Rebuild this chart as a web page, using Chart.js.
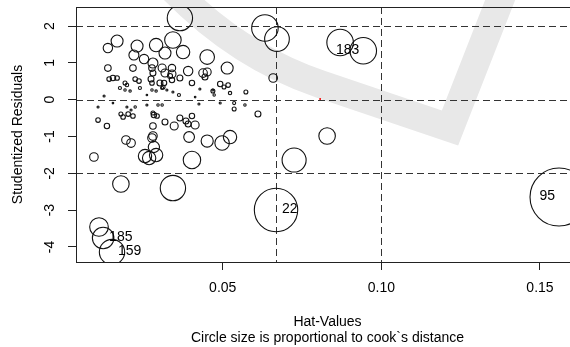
<!DOCTYPE html>
<html>
<head>
<meta charset="utf-8">
<script src="https://cdn.jsdelivr.net/npm/chart.js@4.4.1/dist/chart.umd.min.js"></script>
<style>
  html, body { margin: 0; padding: 0; background: #fff; overflow: hidden; }
  #wrap { width: 580px; height: 347px; }
</style>
</head>
<body>
<div id="wrap"><canvas id="influence" width="580" height="347"></canvas></div>
<script>
// influence plot: hat values against studentized residuals, circle size ~ sqrt(cook's D)
// first five observations are the labelled ones
const hatValues = [
  0.1560, 0.0668, 0.0943, 0.0123, 0.0151,
  0.0870, 0.0365, 0.0633, 0.0671, 0.0725, 0.0829, 0.0343, 0.0179, 0.0110, 0.0094,
  0.0403, 0.0255, 0.0268, 0.0290, 0.0283, 0.0498, 0.0523, 0.0451, 0.0394, 0.0195,
  0.0211, 0.0280, 0.0277, 0.0280, 0.0347, 0.0413, 0.0318, 0.0384, 0.0391, 0.0365,
  0.0403, 0.0280, 0.0283, 0.0293, 0.0179, 0.0186, 0.0202, 0.0217, 0.0107, 0.0135,
  0.0536, 0.0611,
  0.0107, 0.0198, 0.0211, 0.0224, 0.0261, 0.0296, 0.0309, 0.0425, 0.0492, 0.0536,
  0.0570, 0.0154,
  0.0126, 0.0176, 0.0192, 0.0208, 0.0239, 0.0277, 0.0290, 0.0309, 0.0324, 0.0343,
  0.0362, 0.0428, 0.0469, 0.0473, 0.0261, 0.0413, 0.0469, 0.0523, 0.0573,
  0.0167, 0.0138, 0.0230, 0.0290, 0.0343, 0.0318, 0.0375, 0.0220, 0.0252, 0.0280,
  0.0451, 0.0514, 0.0391, 0.0309, 0.0340, 0.0318, 0.0340, 0.0138, 0.0217, 0.0277,
  0.0280, 0.0438, 0.0451, 0.0444, 0.0365, 0.0403, 0.0142, 0.0154, 0.0167, 0.0224,
  0.0236, 0.0274, 0.0277, 0.0302, 0.0315, 0.0340, 0.0492, 0.0517, 0.0504, 0.0659,
  0.0192, 0.0198, 0.0312, 0.0334
];
const studResiduals = [
  -2.645, -2.997, 1.330, -3.758, -4.139,
  1.554, 2.220, 1.948, 1.649, -1.639, -0.987, -2.400, -2.291, -3.459, -1.557,
  -1.639, -1.530, -1.584, -1.503, -1.285, -1.177, -1.014, -1.122, -1.014, -1.095,
  -1.177, -0.987, -1.041, -0.715, -0.715, -0.688, -0.606, -0.579, -0.660, -0.497,
  -0.443, -0.361, -0.416, -0.443, -0.389, -0.470, -0.389, -0.443, -0.552, -0.715,
  -0.253, -0.389,
  -0.198, -0.198, -0.280, -0.198, -0.144, -0.144, -0.144, -0.117, -0.090, -0.090,
  -0.144, -0.090,
  0.101, 0.318, 0.264, 0.236, 0.318, 0.264, 0.236, 0.318, 0.264, 0.209,
  0.128, 0.291, 0.264, 0.128, 0.128, 0.073, 0.236, 0.182, 0.209,
  1.595, 1.405, 1.459, 1.486, 1.622, 1.269, 1.296, 1.215, 1.106, 0.997,
  1.160, 0.861, 0.780, 0.861, 0.861, 0.725, 0.698, 0.861, 0.861, 0.861,
  0.725, 0.725, 0.753, 0.617, 0.590, 0.454, 0.562, 0.590, 0.590, 0.562,
  0.508, 0.562, 0.454, 0.454, 0.454, 0.535, 0.427, 0.399, 0.345, 0.590,
  0.454, 0.400, 0.345, 0.644
];
const cookDistances = [
  0.320, 0.179, 0.067, 0.044, 0.061,
  0.067, 0.061, 0.067, 0.058, 0.055, 0.026, 0.061, 0.026, 0.033, 0.0070,
  0.029, 0.017, 0.017, 0.017, 0.012, 0.020, 0.017, 0.014, 0.011, 0.0070,
  0.0070, 0.0070, 0.0070, 0.0041, 0.0061, 0.0061, 0.0034, 0.0034, 0.0034, 0.0034,
  0.0028, 0.0015, 0.0028, 0.0020, 0.0015, 0.0020, 0.0020, 0.0020, 0.0020, 0.0028,
  0.0015, 0.0034,
  0.0004, 0.0004, 0.0004, 0.00055, 0.0004, 0.00055, 0.00055, 0.0004, 0.0004, 0.0009,
  0.00055, 0.00024,
  0.0004, 0.0009, 0.00055, 0.00055, 0.0009, 0.00055, 0.00055, 0.0009, 0.0004, 0.0004,
  0.0009, 0.0004, 0.0004, 0.00055, 0.00024, 0.00024, 0.0015, 0.0011, 0.0015,
  0.0137, 0.0084, 0.0137, 0.0171, 0.026, 0.0137, 0.0171, 0.0095, 0.0084, 0.0095,
  0.0203, 0.0137, 0.0084, 0.0061, 0.0052, 0.0061, 0.0061, 0.0041, 0.0041, 0.0041,
  0.0034, 0.0070, 0.0061, 0.0034, 0.0034, 0.0028, 0.0020, 0.0028, 0.0020, 0.0020,
  0.0020, 0.0034, 0.0020, 0.0034, 0.0028, 0.0028, 0.0028, 0.0020, 0.0015, 0.0070,
  0.0015, 0.0012, 0.0015, 0.0024
];
const obsLabels = ['95', '22', '183', '185', '159'];
const labelSide = ['left', 'right', 'left', 'right', 'right'];

const hatCutoffs = [0.0667, 0.10];
const residCutoffs = [-2, 0, 2];
const xTicks = [0.05, 0.10, 0.15];
const yTicks = [-4, -3, -2, -1, 0, 1, 2];

// a single stray red mark on the zero line
const strayX = [0.0807];
const strayY = [0.02];

const maxRadius = 29;
const maxCook = Math.max(...cookDistances);
const radiusFor = c => maxRadius * Math.sqrt(c / maxCook);

const font = { family: "'Liberation Sans', Arial, Helvetica, sans-serif", size: 14 };

// fixed axis boxes, no label overhang padding, so the plot region sits where R put it
const fixBox = (w, h) => s => {
  if (w) s.width = w;
  if (h) s.height = h;
  s.paddingLeft = s.paddingRight = s.paddingTop = s.paddingBottom = 0;
};

const watermark = {
  id: 'watermark',
  beforeDraw(chart) {
    const ctx = chart.ctx;
    ctx.save();
    ctx.strokeStyle = '#e8e8e8';
    ctx.lineWidth = 28;
    ctx.lineJoin = 'miter';
    ctx.beginPath();
    ctx.moveTo(168, -16);
    ctx.quadraticCurveTo(235, 55, 320, 84);
    ctx.lineTo(450, 128);
    ctx.lineTo(508, -20);
    ctx.stroke();
    ctx.restore();
  }
};

const refLines = {
  id: 'refLines',
  beforeDatasetsDraw(chart) {
    const { ctx, chartArea: a, scales: { x, y } } = chart;
    ctx.save();
    ctx.strokeStyle = '#333';
    ctx.lineWidth = 1;
    ctx.setLineDash([7, 4]);
    hatCutoffs.forEach(h => {
      const px = Math.round(x.getPixelForValue(h)) + 0.5;
      ctx.beginPath(); ctx.moveTo(px, a.top); ctx.lineTo(px, a.bottom); ctx.stroke();
    });
    residCutoffs.forEach(v => {
      const py = Math.round(y.getPixelForValue(v)) + 0.5;
      ctx.beginPath(); ctx.moveTo(a.left, py); ctx.lineTo(a.right, py); ctx.stroke();
    });
    ctx.restore();
  }
};

const boxAndLabels = {
  id: 'boxAndLabels',
  afterDatasetsDraw(chart) {
    const { ctx, chartArea: a } = chart;
    ctx.save();
    ctx.strokeStyle = '#222';
    ctx.lineWidth = 1;
    ctx.strokeRect(Math.round(a.left) + 0.5, Math.round(a.top) + 0.5,
      Math.round(a.right - a.left), Math.round(a.bottom - a.top));
    const pts = chart.getDatasetMeta(0).data;
    ctx.fillStyle = '#000';
    ctx.font = font.size + 'px ' + font.family;
    ctx.textBaseline = 'middle';
    obsLabels.forEach((lab, i) => {
      const el = pts[i];
      if (labelSide[i] === 'left') { ctx.textAlign = 'right'; ctx.fillText(lab, el.x - 4, el.y - 1); }
      else { ctx.textAlign = 'left'; ctx.fillText(lab, el.x + 6, el.y - 1); }
    });
    ctx.restore();
  }
};

new Chart(document.getElementById('influence'), {
  type: 'bubble',
  data: {
    datasets: [{
      data: hatValues.map((h, i) => ({ x: h, y: studResiduals[i], r: radiusFor(cookDistances[i]) })),
      backgroundColor: 'rgba(0,0,0,0)',
      borderColor: '#111',
      borderWidth: 1.1,
      hoverBorderWidth: 1.1,
      hoverRadius: 0
    }, {
      data: strayX.map((h, i) => ({ x: h, y: strayY[i], r: 1 })),
      backgroundColor: '#e00',
      borderColor: '#e00',
      borderWidth: 0,
      hoverRadius: 0
    }]
  },
  options: {
    responsive: false,
    animation: false,
    devicePixelRatio: 1,
    events: [],
    layout: { autoPadding: false, padding: { top: 7, right: 1, left: 0, bottom: 0 } },
    plugins: { legend: { display: false }, tooltip: { enabled: false } },
    scales: {
      x: {
        type: 'linear',
        min: 0.00375,
        max: 0.1623,
        afterFit: fixBox(0, 85),
        afterBuildTicks: s => { s.ticks = xTicks.map(v => ({ value: v })); },
        border: { display: false },
        grid: { drawOnChartArea: false, tickLength: 8, color: '#222' },
        ticks: { font, color: '#000', padding: 10, maxRotation: 0, autoSkip: false,
                 callback: v => v.toFixed(2) },
        title: { display: true, text: ['Hat-Values', 'Circle size is proportional to cook`s distance'],
                 font, color: '#000', padding: { top: 0, bottom: 0 } }
      },
      y: {
        type: 'linear',
        min: -4.41,
        max: 2.52,
        afterFit: fixBox(76, 0),
        afterBuildTicks: s => { s.ticks = yTicks.map(v => ({ value: v })); },
        border: { display: false },
        grid: { drawOnChartArea: false, tickLength: 8, color: '#222' },
        ticks: { font, color: '#000', padding: 12, minRotation: 90, maxRotation: 90,
                 crossAlign: 'center', autoSkip: false, callback: v => String(v) },
        title: { display: true, text: 'Studentized Residuals', font, color: '#000',
                 padding: { top: 10, bottom: 0 } }
      }
    }
  },
  plugins: [watermark, refLines, boxAndLabels]
});
</script>
</body>
</html>
